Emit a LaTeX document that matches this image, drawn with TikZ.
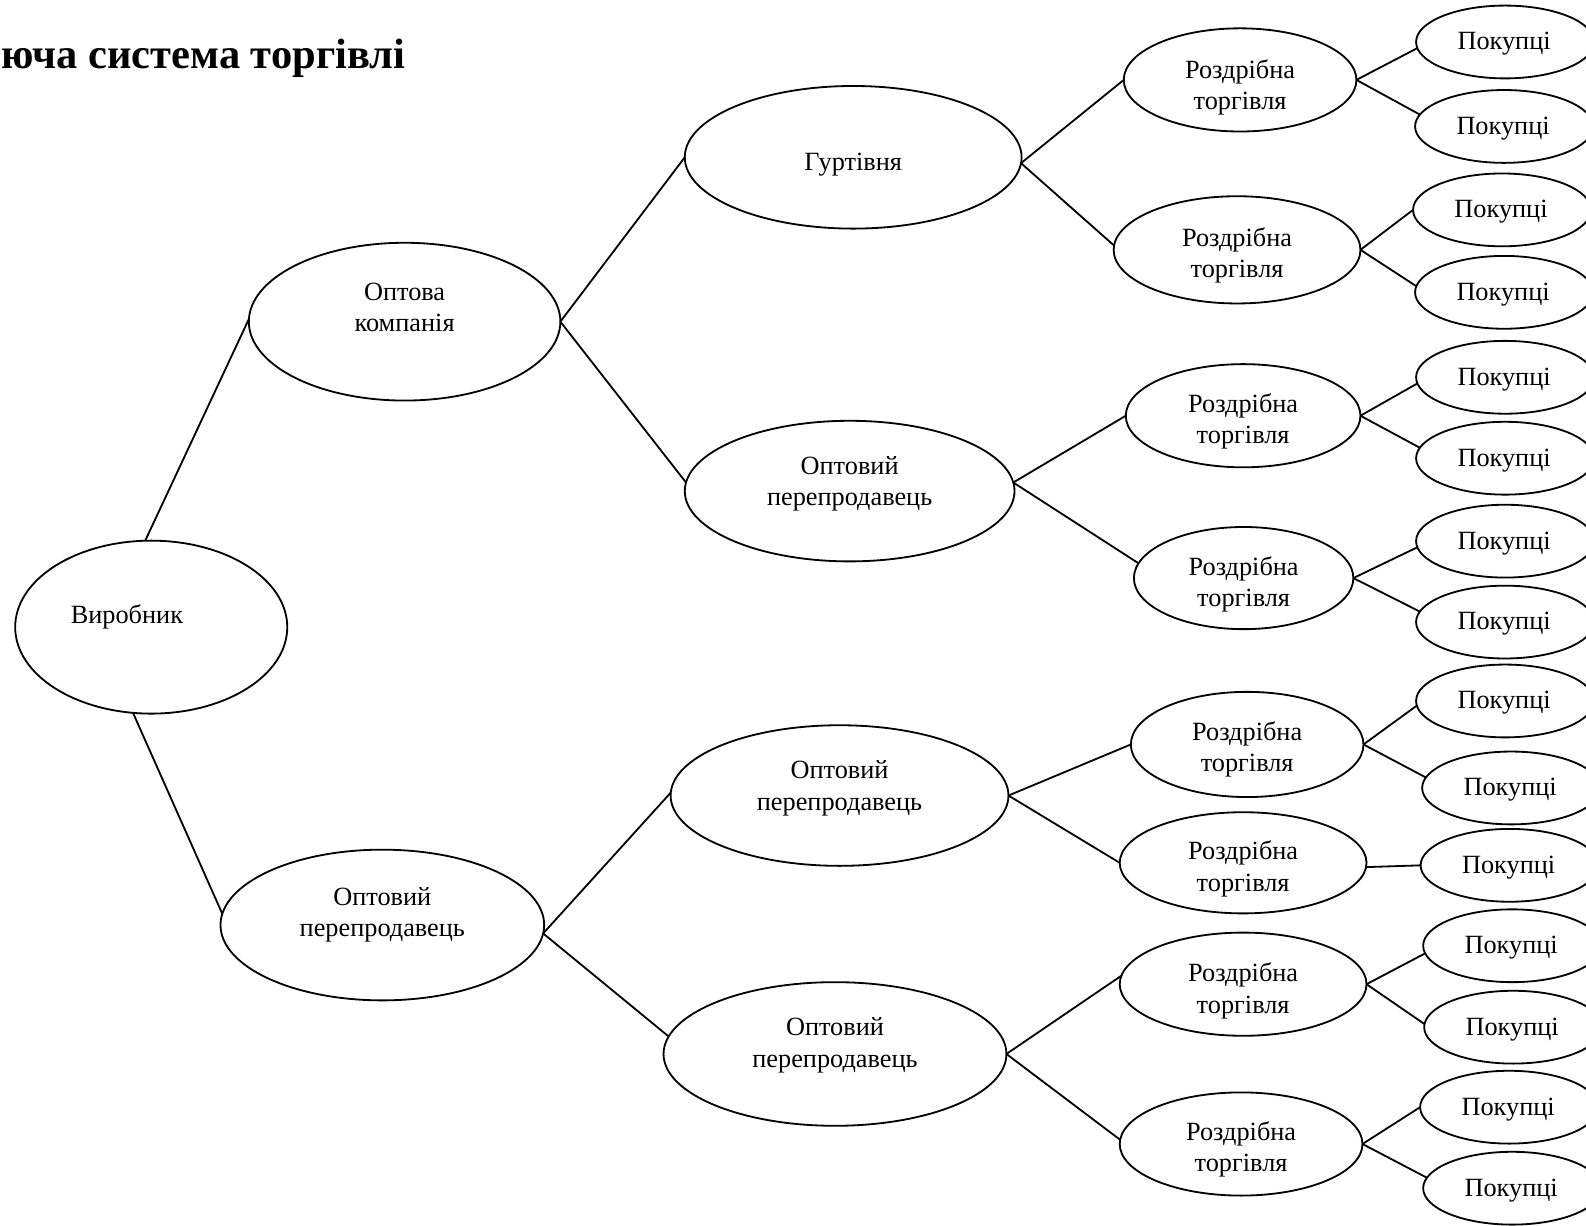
\documentclass[tikz,border=0pt]{standalone}
\usepackage{fontspec}
\setmainfont{Liberation Serif}
\usetikzlibrary{shapes.geometric}
\begin{document}
\begin{tikzpicture}[x=0.5pt,y=-0.5pt,
  ell/.style 2 args={ellipse, draw, line width=0.9pt, minimum width=#1pt, minimum height=#2pt, inner sep=0pt, outer sep=0pt},
  txt/.style={align=center, inner sep=0pt, font=\fontsize{13}{15.5}\selectfont},
  conn/.style={draw, line width=0.9pt},
  pk/.style={ell={88}{36}}]
\useasboundingbox (0,0) rectangle (1568,1212);
\clip (0,0) rectangle (1568,1212);

\node[anchor=base east, inner sep=0pt, font=\bfseries\fontsize{21}{25}\selectfont] (title) at (401,67.6) {юча система торгівлі};

\node[ell={134.5}{85.5}] (V) at (149.5,620) {};
\node[txt] (tV) at (125.5,610) {Виробник};
\node[ell={154}{78}] (OK) at (400,318) {};
\node[txt] (tOK) at (400,304) {Оптова\\компанія};
\node[ell={160}{74.5}] (O3) at (378,914.5) {};
\node[txt] (tO3) at (378,904.5) {Оптовий\\перепродавець};
\node[ell={166.5}{70.5}] (G) at (843.5,155.5) {};
\node[txt] (tG) at (843.5,163) {Гуртівня};
\node[ell={163}{69.5}] (O5) at (840,485.5) {};
\node[txt] (tO5) at (840,478.5) {Оптовий\\перепродавець};
\node[ell={167}{69.5}] (O6) at (830,786.5) {};
\node[txt] (tO6) at (830,779.5) {Оптовий\\перепродавець};
\node[ell={169.5}{71}] (O7) at (825.5,1042) {};
\node[txt] (tO7) at (825.5,1033.5) {Оптовий\\перепродавець};

\node[ell={115}{51}] (R1) at (1226,79) {};
\node[txt] (tR1) at (1226,86.5) {Роздрібна\\торгівля};
\node[ell={122}{53}] (R2) at (1223,247) {};
\node[txt] (tR2) at (1223,252.5) {Роздрібна\\торгівля};
\node[ell={116}{51}] (R3) at (1229,411) {};
\node[txt] (tR3) at (1229,416.5) {Роздрібна\\торгівля};
\node[ell={108.5}{50.5}] (R4) at (1229.5,571.5) {};
\node[txt] (tR4) at (1229.5,578) {Роздрібна\\торгівля};
\node[ell={115}{52}] (R5) at (1233,736) {};
\node[txt] (tR5) at (1233,741) {Роздрібна\\торгівля};
\node[ell={122}{50}] (R6) at (1229,853) {};
\node[txt] (tR6) at (1229,859) {Роздрібна\\торгівля};
\node[ell={122}{51}] (R7) at (1229,973) {};
\node[txt] (tR7) at (1229,979.5) {Роздрібна\\торгівля};
\node[ell={120}{51}] (R8) at (1227,1131) {};
\node[txt] (tR8) at (1227,1136) {Роздрібна\\торгівля};

\node[pk] (P1) at (1488,41.5) {};
\node[pk] (P2) at (1487,125) {};
\node[pk] (P3) at (1485,207.5) {};
\node[pk] (P4) at (1487,289) {};
\node[pk] (P5) at (1488,373) {};
\node[pk] (P6) at (1488,453) {};
\node[pk] (P7) at (1488,535) {};
\node[pk] (P8) at (1488,615) {};
\node[pk] (P9) at (1488,693) {};
\node[pk] (P10) at (1494,779) {};
\node[pk] (P11) at (1492.5,855.5) {};
\node[pk] (P12) at (1495,935) {};
\node[pk] (P13) at (1496,1015.5) {};
\node[pk] (P14) at (1492,1094.6) {};
\node[pk] (P15) at (1495,1174.7) {};
\foreach \i in {1,...,15}{
  \node[txt] (tP\i) at ([xshift=-0.5pt,yshift=-1pt]P\i.center) {Покупці};
}

\draw[conn] (V.94) -- (OK.179);
\draw[conn] (V.-102) -- (O3.176);
\draw[conn] (OK.east) -- (G.west);
\draw[conn] (OK.east) -- (O5.177);
\draw[conn] (O3.-3) -- (O6.179);
\draw[conn] (O3.-3) -- (O7.174);
\draw[conn] (G.-2) -- (R1.west);
\draw[conn] (G.-2) -- (R2.178);
\draw[conn] (O5.3) -- (R3.west);
\draw[conn] (O5.3) -- (R4.172);
\draw[conn] (O6.east) -- (R5.west);
\draw[conn] (O6.east) -- (R6.west);
\draw[conn] (O7.east) -- (R7.176);
\draw[conn] (O7.east) -- (R8.178);

\draw[conn] (R1.east) -- (P1.-176);
\draw[conn] (R1.east) -- (P2.172);
\draw[conn] (R2.east) -- (P3.west);
\draw[conn] (R2.east) -- (P4.176);
\draw[conn] (R3.east) -- (P5.-176);
\draw[conn] (R3.east) -- (P6.173);
\draw[conn] (R4.east) -- (P7.-176);
\draw[conn] (R4.east) -- (P8.173);
\draw[conn] (R5.east) -- (P9.-177);
\draw[conn] (R5.east) -- (P10.173);
\draw[conn] (R6.-2) -- (P11.west);
\draw[conn] (R7.east) -- (P12.-175);
\draw[conn] (R7.east) -- (P13.178);
\draw[conn] (R8.east) -- (P14.west);
\draw[conn] (R8.east) -- (P15.173);
\end{tikzpicture}
\end{document}
